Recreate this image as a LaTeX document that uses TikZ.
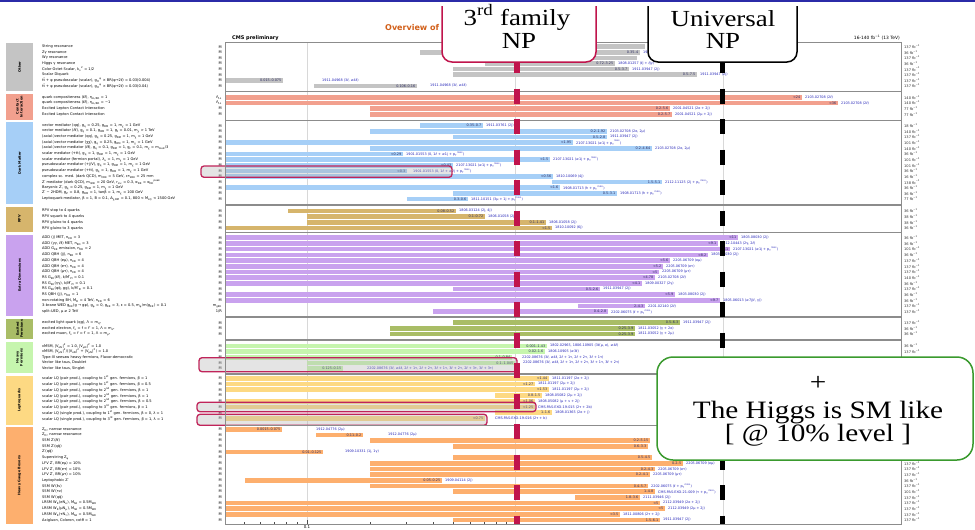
\documentclass[tikz,border=0pt]{standalone}
\usepackage{fontspec}
\setmainfont{Liberation Serif}
\newfontfamily\dv{DejaVu Sans}
\definecolor{topblue}{HTML}{2B2BA8}
\definecolor{npred}{HTML}{C0144C}
\definecolor{hlc}{HTML}{C0245A}
\definecolor{hgreen}{HTML}{3A9A2E}
\definecolor{titleor}{HTML}{D2601A}
\definecolor{cgray}{HTML}{C4C4C4}
\definecolor{csal}{HTML}{F2A08E}
\definecolor{cblue}{HTML}{A6CFF7}
\definecolor{ctan}{HTML}{D6B56C}
\definecolor{cpur}{HTML}{C9A2EE}
\definecolor{coli}{HTML}{A9BD66}
\definecolor{clg}{HTML}{C6F5AE}
\definecolor{cyel}{HTML}{FDD983}
\definecolor{cora}{HTML}{FDAF6E}
\definecolor{rngc}{HTML}{2A2A60}
\definecolor{refc}{HTML}{2424B8}
\definecolor{framec}{HTML}{8C8C8C}
\definecolor{gridc}{HTML}{D8D8D8}
\newcommand\Dn[1]{\textsubscript{#1}}
\newcommand\Up[1]{\textsuperscript{#1}}
\newcommand\pT{p\Dn{T}\Up{miss}}
\newcommand\fbi{fb\Up{−1}}
\tikzset{
 lab/.style={font=\dv\fontsize{3.6}{4}\selectfont, anchor=west, inner sep=0},
 mk/.style={font=\dv\fontsize{3.6}{4}\selectfont, anchor=east, inner sep=0},
 lum/.style={font=\dv\fontsize{3.6}{4}\selectfont, anchor=west, inner sep=0, text=black!80},
 rng/.style={font=\dv\fontsize{3.4}{4}\selectfont, anchor=east, inner sep=0, text=rngc},
 refl/.style={font=\dv\fontsize{3.4}{4}\selectfont, anchor=west, inner sep=0, text=refc},
 band/.style={font=\dv\bfseries\fontsize{3.4}{4}\selectfont, rotate=90, align=center, inner sep=0},
 hl/.style={draw=hlc, line width=1.3, rounded corners=3, fill=black!30, fill opacity=0.35},
 bigtxt/.style={font=\fontsize{23}{25}\selectfont, xscale=1.17, anchor=base, inner sep=0},
 higgs/.style={font=\fontsize{25}{27}\selectfont, xscale=1.17, anchor=base, inner sep=0},
}
\newcommand\mybar[6]{\fill[#4] (#2,#1-2.3) rectangle (#3,#1+2.3);
 \node[rng] at (#3-1.5,#1) {#5};
 \node[refl] at (#3+3,#1) {#6};}
\newcommand\myref[3]{\node[refl] at (#1,#2) {#3};}
\newcommand\lumrow[3]{% start, pitch, list
 \foreach \l [count=\i from 0] in {#3} {\pgfmathsetmacro\yy{#1+\i*#2}
  \ifdim\yy pt<355pt \node[lum] at (904,\yy) {\l\ \fbi};\else\ifdim\yy pt>462pt \node[lum] at (904,\yy) {\l\ \fbi};\fi\fi}}
\begin{document}
\begin{tikzpicture}[x=1pt,y=-1pt]
\useasboundingbox (0,0) rectangle (975,530);
\fill[white] (0,0) rectangle (975,530);
\draw[topblue, line width=1.6] (0,1) -- (975,1);
% title texts (the title runs under the 3rd-family box)
\begin{scope}
\clip (370,15) rectangle (441,40);
\node[font=\dv\bfseries\fontsize{8}{9}\selectfont, text=titleor, anchor=west, inner sep=0] (title) at (385,28) {Overview of};
\end{scope}
\node[font=\dv\bfseries\fontsize{5}{6}\selectfont, anchor=south west, inner sep=0] (cms) at (232,40.5) {CMS preliminary};
\node[font=\dv\fontsize{4.4}{5}\selectfont, anchor=south east, inner sep=0] (lumi) at (900,40.5) {16-140 \fbi\ (13 TeV)};
% grid
\foreach \gx in {307,515,723} \draw[gridc, line width=0.5] (\gx,42) -- (\gx,524);
% category bands
\fill[cgray] (6,43) rectangle (33,91);
\fill[csal] (6,94) rectangle (33,119.5);
\fill[cblue] (6,122) rectangle (33,204);
\fill[ctan] (6,206.5) rectangle (33,232);
\fill[cpur] (6,234.5) rectangle (33,316);
\fill[coli] (6,318.5) rectangle (33,339);
\fill[clg] (6,341.5) rectangle (33,373);
\fill[cyel] (6,375.5) rectangle (33,424.5);
\fill[cora] (6,427) rectangle (33,524);
\node[band] (b1) at (19.5,67) {Other};
\node[band] (b2) at (19.5,106.7) {Contact\\Interaction};
\node[band] (b3) at (19.5,163) {Dark Matter};
\node[band] (b4) at (19.5,219) {RPV};
\node[band] (b5) at (19.5,275) {Extra Dimensions};
\node[band] (b6) at (19.5,328.7) {Excited\\Fermions};
\node[band] (b7) at (19.5,357.2) {Heavy\\Fermions};
\node[band] (b8) at (19.5,400) {Leptoquarks};
\node[band] (b9) at (19.5,475.5) {Heavy Gauge Bosons};
% row labels
\foreach \t [count=\i from 0] in {{String resonance},{Zγ resonance},{Wγ resonance},{Higgs γ resonance},{Color Octet Scalar, k\Dn{s}\Up{2} = 1/2},{Scalar Diquark},{t\={t} + φ pseudoscalar (scalar), g\Dn{tt}\Up{φ} × BR(φ→2ℓ) = 0.03(0.004)},{t\={t} + φ pseudoscalar (scalar), g\Dn{tt}\Up{φ} × BR(φ→2ℓ) = 0.03(0.04)}}
 \node[lab] at (42,46.7+\i*5.6) {\t};
\foreach \t [count=\i from 0] in {{quark compositeness (ℓℓ), η\Dn{LL/RR} = 1},{quark compositeness (ℓℓ), η\Dn{LL/RR} = −1},{Excited Lepton Contact Interaction},{Excited Lepton Contact Interaction}}
 \node[lab] at (42,97.3+\i*5.67) {\t};
\foreach \t [count=\i from 0] in {{vector mediator (qq), g\Dn{q} = 0.25, g\Dn{DM} = 1, m\Dn{χ} = 1 GeV},{vector mediator (ℓℓ), g\Dn{q} = 0.1, g\Dn{DM} = 1, g\Dn{ℓ} = 0.01, m\Dn{χ} > 1 TeV},{(axial-)vector mediator (qq), g\Dn{q} = 0.25, g\Dn{DM} = 1, m\Dn{χ} = 1 GeV},{(axial-)vector mediator (χχ), g\Dn{q} = 0.25, g\Dn{DM} = 1, m\Dn{χ} = 1 GeV},{(axial-)vector mediator (ℓℓ), g\Dn{q} = 0.1, g\Dn{DM} = 1, g\Dn{ℓ} = 0.1, m\Dn{χ} = m\Dn{med}/3},{scalar mediator (+tt), g\Dn{q} = 1, g\Dn{DM} = 1, m\Dn{χ} = 1 GeV},{scalar mediator (fermion portal), λ\Dn{u} = 1, m\Dn{χ} = 1 GeV},{pseudoscalar mediator (+j/V), g\Dn{q} = 1, g\Dn{DM} = 1, m\Dn{χ} = 1 GeV},{pseudoscalar mediator (+tt), g\Dn{q} = 1, g\Dn{DM} = 1, m\Dn{χ} = 1 GeV},{complex sc. med. (dark QCD), m\Dn{πDK} = 5 GeV, cτ\Dn{πDK} = 25 mm},{Z′ mediator (dark QCD), m\Dn{πDK} = 20 GeV, r\Dn{inv} = 0.3, α\Dn{DK} = α\Dn{DK}\Up{peak}},{Baryonic Z′, g\Dn{q} = 0.25, g\Dn{DM} = 1, m\Dn{χ} = 1 GeV},{Z′ − 2HDM, g\Dn{Z} = 0.8, g\Dn{DM} = 1, tanβ = 1, m\Dn{χ} = 100 GeV},{Leptoquark mediator, β = 1, B = 0.1, Δ\Dn{χ,DM} = 0.1, 800 < M\Dn{LQ} < 1500 GeV}}
 \node[lab] at (42,125.7+\i*5.64) {\t};
\foreach \t [count=\i from 0] in {{RPV stop to 4 quarks},{RPV squark to 4 quarks},{RPV gluino to 4 quarks},{RPV gluino to 3 quarks}}
 \node[lab] at (42,211+\i*5.67) {\t};
\foreach \t [count=\i from 0] in {{ADD (j) MET, n\Dn{ED} = 3},{ADD (γγ, ℓℓ) MET, n\Dn{ED} = 3},{ADD G\Dn{KK} emission, n\Dn{ED} = 2},{ADD QBH (jj), n\Dn{ED} = 6},{ADD QBH (eμ), n\Dn{ED} = 4},{ADD QBH (eτ), n\Dn{ED} = 4},{ADD QBH (μτ), n\Dn{ED} = 4},{RS G\Dn{KK}(ℓℓ), k/M\={}\Dn{Pl} = 0.1},{RS G\Dn{KK}(γγ), k/M\={}\Dn{Pl} = 0.1},{RS G\Dn{KK}(q\={q}, gg), k/M\={}\Dn{Pl} = 0.1},{RS QBH (jj), n\Dn{ED} = 1},{non-rotating BH, M\Dn{D} = 4 TeV, n\Dn{ED} = 6},{3-brane WED g\Dn{KK}(g → gφ), g\Dn{φ} = 0, g\Dn{KK} = 3, ε = 0.5, m\Dn{φ}/m(g\Dn{KK}) = 0.1},{split-UED, μ ≥ 2 TeV}}
 \node[lab] at (42,237.7+\i*5.69) {\t};
\foreach \t [count=\i from 0] in {{excited light quark (qg), Λ = m\Dn{q*}},{excited electron, f\Dn{s} = f = f′ = 1, Λ = m\Dn{e*}},{excited muon, f\Dn{s} = f = f′ = 1, Λ = m\Dn{μ*}}}
 \node[lab] at (42,322.7+\i*5.67) {\t};
\foreach \t [count=\i from 0] in {{νMSM, |V\Dn{eN}|\Up{2} = 1.0,  |V\Dn{μN}|\Up{2} = 1.0},{νMSM, |V\Dn{μN}|\Up{2}/(|V\Dn{eN}|\Up{2} + |V\Dn{μN}|\Up{2}) = 1.0},{Type-III seesaw heavy fermions, Flavor-democratic},{Vector like taus,  Doublet},{Vector like taus,  Singlet}}
 \node[lab] at (42,346+\i*5.6) {\t};
\foreach \t [count=\i from 0] in {{scalar LQ (pair prod.), coupling to 1\Up{st} gen. fermions, β = 1},{scalar LQ (pair prod.), coupling to 1\Up{st} gen. fermions, β = 0.5},{scalar LQ (pair prod.), coupling to 2\Up{nd} gen. fermions, β = 1},{scalar LQ (pair prod.), coupling to 2\Up{nd} gen. fermions, β = 1},{scalar LQ (pair prod.), coupling to 2\Up{nd} gen. fermions, β = 0.5},{scalar LQ (pair prod.), coupling to 3\Up{rd} gen. fermions, β = 1},{scalar LQ (single prod.), coupling to 1\Up{st} gen. fermions, β = 0, λ = 1},{scalar LQ (single prod.), coupling to 3\Up{rd} gen. fermions, β = 1, λ = 1}}
 \node[lab] at (42,378.2+\i*5.75) {\t};
\foreach \t [count=\i from 0] in {{Z\Dn{D}, narrow resonance},{Z\Dn{D}, narrow resonance},{SSM Z′(ℓℓ)},{SSM Z′(q\={q})},{Z′(q\={q})},{Superstring Z\Dn{ψ}},{LFV Z′, BR(eμ) = 10\%},{LFV Z′, BR(eτ) = 10\%},{LFV Z′, BR(μτ) = 10\%},{Leptophobic Z′},{SSM W′(ℓν)},{SSM W′(τν)},{SSM W′(q\={q})},{LRSM W\Dn{R}(eN\Dn{e}), M\Dn{Nℓ} = 0.5M\Dn{WR}},{LRSM W\Dn{R}(μN\Dn{μ}), M\Dn{Nℓ} = 0.5M\Dn{WR}},{LRSM W\Dn{R}(τN\Dn{τ}), M\Dn{Nℓ} = 0.5M\Dn{WR}},{Axigluon, Coloron, cotθ = 1}}
 \node[lab] at (42,429.3+\i*5.67) {\t};
% unit markers
\foreach \y in {46.7,52.3,57.9,63.5,69.1,74.7,80.3,85.9,108.6,114.3} \node[mk] at (222,\y) {M};
\node[mk] at (222,97.3) {Λ\Dn{LL}};
\node[mk] at (222,103) {Λ\Dn{LL}};
\foreach \i in {0,...,13} \node[mk] at (222,125.7+\i*5.64) {M};
\foreach \i in {0,...,3} \node[mk] at (222,211+\i*5.67) {M};
\foreach \i in {0,...,11} \node[mk] at (222,237.7+\i*5.69) {M};
\node[mk] at (222,306) {m\Dn{gKK}};
\node[mk] at (222,311.7) {1/R};
\foreach \i in {0,...,2} \node[mk] at (222,322.7+\i*5.67) {M};
\foreach \i in {0,...,4} \node[mk] at (222,346+\i*5.6) {M};
\foreach \i in {0,...,7} \node[mk] at (222,378.2+\i*5.75) {M};
\foreach \i in {0,...,16} \node[mk] at (222,429.3+\i*5.67) {M};
% luminosities (those under the Higgs box are hidden)
\lumrow{46.7}{5.6}{137,36,137,36,137,137,137,137}
\lumrow{97.3}{5.67}{140,140,77,77}
\lumrow{125.7}{5.64}{18,140,137,101,140,36,101,101,36,16,138,36,36,77}
\lumrow{211}{5.67}{36,38,38,36}
\lumrow{237.7}{5.69}{36,36,101,36,137,137,137,140,36,137,36,36,137,137}
\lumrow{322.7}{5.67}{137,36,36}
\lumrow{346}{5.6}{36,137,138,138,138}
\lumrow{429.3}{5.67}{137,137,140,137,36,36,137,137,137,36,137,101,137,137,137,137,137}
% ---- bars: Other
\mybar{46.7}{530}{645}{cgray}{}{}
\mybar{52.3}{420}{640}{cgray}{0.35–4}{1911.03947 (2j)}
\mybar{57.9}{560}{637}{cgray}{}{}
\mybar{63.5}{485}{615}{cgray}{0.72–3.25}{1808.01257 (ℓj + ℓjγ)}
\mybar{69.1}{453}{629}{cgray}{0.5–3.7}{1911.03947 (2j)}
\mybar{74.7}{453}{697}{cgray}{0.5–7.5}{1911.03947 (2j)}
\mybar{80.3}{225}{283}{cgray}{0.015–0.075}{}
\myref{322}{80.3}{1911.04968 (3ℓ, ≥4ℓ)}
\mybar{85.9}{314}{417}{cgray}{0.106–0.16}{}
\myref{430}{85.9}{1911.04968 (3ℓ, ≥4ℓ)}
% Contact
\mybar{97.3}{225}{802}{csal}{<24}{2103.02708 (2ℓ)}
\mybar{103.0}{225}{838}{csal}{<36}{2103.02708 (2ℓ)}
\mybar{108.6}{370}{670}{csal}{0.2–5.6}{2001.04521 (2e + 2j)}
\mybar{114.3}{370}{672}{csal}{0.2–5.7}{2001.04521 (2μ + 2j)}
% Dark matter
\mybar{125.7}{420}{483}{cblue}{0.35–0.7}{1911.03761 (2j)}
\mybar{131.3}{370}{607}{cblue}{0.2–1.92}{2103.02708 (2e, 2μ)}
\mybar{137.0}{453}{607}{cblue}{0.5–2.8}{1911.03947 (2j)}
\mybar{142.6}{225}{573}{cblue}{<1.95}{2107.13021 (≥1j + \pT)}
\mybar{148.3}{370}{652}{cblue}{0.2–4.64}{2103.02708 (2e, 2μ)}
\mybar{153.9}{225}{403}{cblue}{<0.29}{1901.01553 (0, 1ℓ + ≥1j + \pT)}
\mybar{159.5}{225}{550}{cblue}{<1.5}{2107.13021 (≥1j + \pT)}
\mybar{165.2}{225}{453}{cblue}{<0.43}{2107.13021 (≥1j + \pT)}
\mybar{170.8}{225}{407}{cblue}{<0.3}{}
\myref{413}{170.8}{1901.01553 (0, 1ℓ + ≥2j + \pT)}
\mybar{176.5}{225}{553}{cblue}{<0.56}{1810.10069 (4j)}
\mybar{182.1}{552}{662}{cblue}{1.5–5.1}{2112.11125 (2j + \pT)}
\mybar{187.7}{225}{560}{cblue}{<1.6}{1908.01713 (h + \pT)}
\mybar{193.4}{453}{617}{cblue}{0.5–3.1}{1908.01713 (h + \pT)}
\mybar{199.0}{407}{468}{cblue}{0.3–0.6}{1811.10151 (3μ + 1j + \pT)}
% RPV
\mybar{211.0}{288}{456}{ctan}{0.08–0.52}{1806.03124 (2j, 4j)}
\mybar{216.7}{307}{485}{ctan}{0.1–0.72}{1806.01058 (2j)}
\mybar{222.3}{307}{546}{ctan}{0.1–1.41}{1806.01058 (2j)}
\mybar{228.0}{225}{552}{ctan}{<1.5}{1810.10092 (6j)}
% Extra dimensions
\mybar{237.7}{225}{738}{cpur}{<11}{1803.08030 (2j)}
\mybar{243.4}{225}{718}{cpur}{<9.1}{1812.10443 (2γ, 2ℓ)}
\mybar{249.1}{225}{730}{cpur}{<11}{2107.13021 (≥1j + \pT)}
\mybar{254.8}{225}{708}{cpur}{<8.2}{1803.08030 (2j)}
\mybar{260.5}{225}{670}{cpur}{<5.6}{2205.06709 (eμ)}
\mybar{266.2}{225}{663}{cpur}{<5.2}{2205.06709 (eτ)}
\mybar{271.8}{225}{659}{cpur}{<5}{2205.06709 (μτ)}
\mybar{277.5}{225}{655}{cpur}{<4.78}{2103.02708 (2ℓ)}
\mybar{283.2}{225}{642}{cpur}{<4.1}{1809.00327 (2γ)}
\mybar{288.9}{453}{600}{cpur}{0.5–2.6}{1911.03947 (2j)}
\mybar{294.6}{225}{675}{cpur}{<5.9}{1803.08030 (2j)}
\mybar{300.3}{225}{720}{cpur}{<9.7}{1805.06013 (≥7j(ℓ, γ))}
\mybar{306.0}{578}{645}{cpur}{2–4.3}{2201.02140 (2ℓ)}
\mybar{311.7}{433}{608}{cpur}{0.4–2.8}{2202.06075 (ℓ + \pT)}
% Excited fermions
\mybar{322.7}{453}{680}{coli}{0.5–6.3}{1911.03947 (2j)}
\mybar{328.4}{390}{635}{coli}{0.25–3.9}{1811.03052 (γ + 2e)}
\mybar{334.0}{390}{635}{coli}{0.25–3.9}{1811.03052 (γ + 2μ)}
% Heavy fermions
\mybar{346.0}{225}{547}{clg}{0.001–1.43}{1802.02965, 1806.10905 (3ℓ(μ, e), ≥4ℓ)}
\mybar{351.6}{225}{545}{clg}{0.02–1.6}{1806.10905 (≥3ℓ)}
\mybar{357.2}{225}{512}{clg}{0.1–0.84}{}
\myref{522}{357.2}{2202.08676 (3ℓ, ≥4ℓ, 2ℓ + 1τ, 2ℓ + 2τ, 3ℓ + 1τ)}
\mybar{362.8}{307}{515}{clg}{0.1–1.045}{}
\myref{523}{362.8}{2202.08676 (3ℓ, ≥4ℓ, 2ℓ + 1τ, 2ℓ + 2τ, 3ℓ + 1τ, 3ℓ + 2τ)}
\mybar{368.4}{307}{343}{clg}{0.125–0.15}{}
\myref{367}{368.4}{2202.08676 (3ℓ, ≥4ℓ, 2ℓ + 1τ, 2ℓ + 2τ, 3ℓ + 1τ, 3ℓ + 2τ, 2ℓ + 3τ, 3ℓ + 3τ)}
% Leptoquarks
\mybar{378.2}{225}{549}{cyel}{<1.44}{1811.01197 (2e + 2j)}
\mybar{384.0}{225}{535}{cyel}{<1.27}{1811.01197 (2μ + 2j)}
\mybar{389.7}{225}{549}{cyel}{<1.53}{1811.01197 (2μ + 2j)}
\mybar{395.5}{495}{542}{cyel}{0.8–1.5}{1808.05082 (2μ + 2j)}
\mybar{401.2}{225}{535}{cyel}{<1.06}{1808.05082 (μ + ν + 2j)}
\mybar{407.0}{225}{535}{cyel}{<1.25}{CMS-PAS-EXO-19-015 (2τ + 2b)}
\mybar{412.7}{495}{552}{cyel}{1–1.6}{1808.01365 (2e + j)}
\mybar{418.5}{225}{485}{cyel}{<0.75}{}
\myref{495}{418.5}{CMS-PAS-EXO-19-016 (2τ + b)}
% Heavy gauge bosons
\mybar{429.3}{225}{282}{cora}{0.0015–0.075}{}
\myref{316}{429.3}{1912.04776 (2μ)}
\mybar{435.0}{316}{363}{cora}{0.11–0.2}{}
\myref{388}{435.0}{1912.04776 (2μ)}
\mybar{440.6}{370}{650}{cora}{0.2–5.15}{}
\mybar{446.3}{453}{648}{cora}{0.6–3.3}{}
\mybar{452.0}{225}{323}{cora}{0.01–0.125}{}
\myref{345}{452.0}{1909.10331 (1j, 1γ)}
\mybar{457.7}{453}{652}{cora}{0.5–4.5}{}
\mybar{463.3}{370}{683}{cora}{0.2–5}{2205.06709 (eμ)}
\mybar{469.0}{370}{655}{cora}{0.2–4.3}{2205.06709 (eτ)}
\mybar{474.7}{370}{650}{cora}{0.2–4.1}{2205.06709 (μτ)}
\mybar{480.3}{245}{442}{cora}{0.05–0.25}{1909.04114 (2j)}
\mybar{486.0}{370}{648}{cora}{0.4–5.7}{2202.06075 (ℓ + \pT)}
\mybar{491.7}{453}{655}{cora}{1–4.8}{CMS-PAS-EXO-21-009 (τ + \pT)}
\mybar{497.3}{575}{640}{cora}{1.8–3.6}{2111.03946 (2j)}
\mybar{503.0}{225}{660}{cora}{<5}{2112.03949 (2e + 2j)}
\mybar{508.7}{225}{665}{cora}{<5}{2112.03949 (2μ + 2j)}
\mybar{514.4}{225}{620}{cora}{<3.5}{1811.00806 (2τ + 2j)}
\mybar{520.0}{453}{660}{cora}{1.5–6.1}{1911.03947 (2j)}
% highlights
\draw[hl] (201,166) rectangle (452,177.3);
\draw[hl] (199,357.7) rectangle (517,371.7);
\draw[hl] (197,402.3) rectangle (536,411.7);
\draw[hl] (197,414.3) rectangle (487,425.3);
% frame and separators
\draw[framec, line width=0.9] (225,42) -- (901,42) -- (901,524) -- (225,524) -- cycle;
\foreach \s in {91.8,120.7,205,232.8,317,340,374,425.8} \draw[framec, line width=1.1] (225,\s) -- (901,\s);
% axis ticks
\foreach \tx in {244,260.5,274.6,286.7,297.4,370,406.5,433,453.4,470,484,496,506.5} \draw[black!70, line width=0.5] (\tx,524) -- (\tx,521.5);
\foreach \tx in {307,515,723} \draw[black!70, line width=0.6] (\tx,524) -- (\tx,520);
\node[font=\dv\fontsize{4}{5}\selectfont, anchor=north, inner sep=0] (t01) at (307,525.5) {0.1};
% dashed NP lines
\draw[npred, line width=6, dash pattern=on 15pt off 15.5pt] (517,58) -- (517,524);
\draw[black, line width=5, dash pattern=on 15pt off 15.5pt] (722,58) -- (722,524);
% NP boxes
\begin{scope}
\clip (0,6) rectangle (975,530);
\draw[npred, line width=1.5, fill=white, rounded corners=10] (442,-20) rectangle (596,62);
\draw[black, line width=1.5, fill=white, rounded corners=10] (648,-20) rectangle (797,62);
\end{scope}
\node[bigtxt] (np3a) at (517,25) {3\textsuperscript{rd} family};
\node[bigtxt] (np3b) at (519,48) {NP};
\node[bigtxt] (npua) at (723,27) {Universal};
\node[bigtxt] (npub) at (723,48) {NP};
% Higgs box
\draw[hgreen, line width=1.5, fill=white, rounded corners=16] (657,357) rectangle (973,460);
\node[font=\fontsize{25}{27}\selectfont, xscale=1.17, inner sep=0] (hplus) at (818,383) {+};
\node[higgs] (h1) at (818,418.3) {The Higgs is SM like};
\node[higgs] (h2) at (818,441.7) {[ @ 10\% level ]};
\end{tikzpicture}
\end{document}
